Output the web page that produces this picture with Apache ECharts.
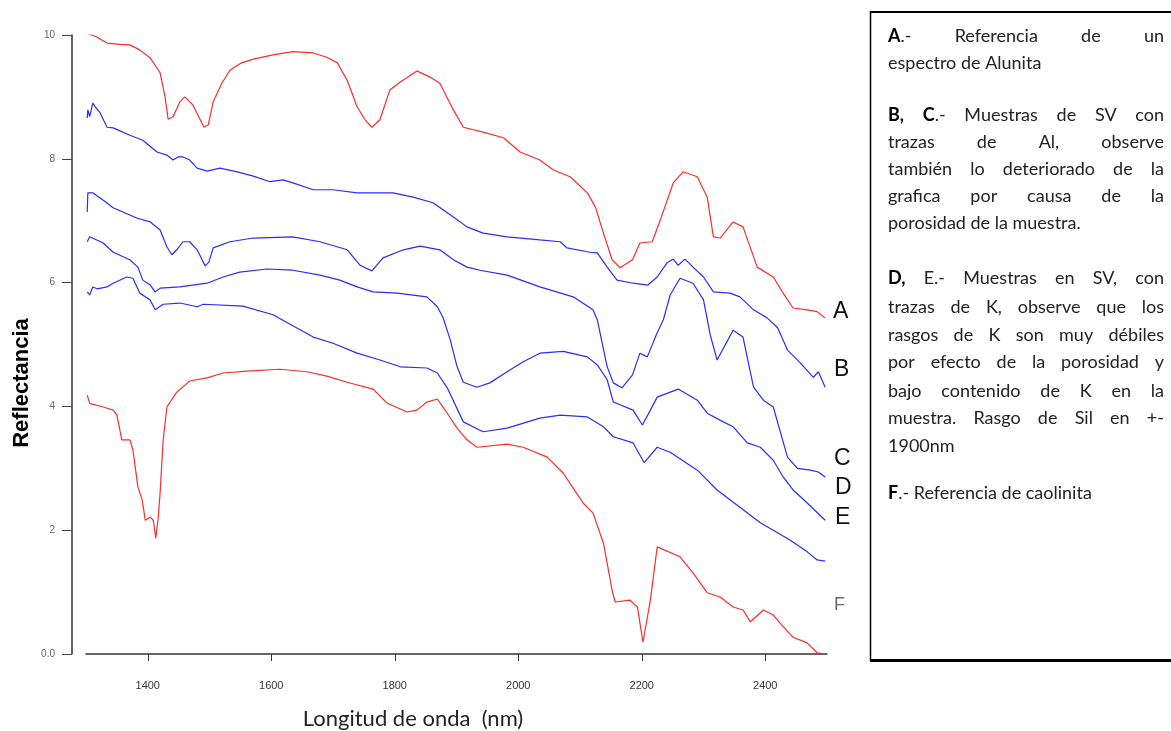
<!DOCTYPE html>
<html>
<head>
<meta charset="utf-8">
<script src="https://cdn.jsdelivr.net/npm/echarts@6/dist/echarts.min.js"></script>
<style>
  html, body { margin: 0; padding: 0; background: #ffffff; }
  #chart { width: 1171px; height: 731px; }
</style>
</head>
<body>
<div id="chart"></div>
<script>
// Wavelength (nm) and reflectance readings for each spectrum
const wavelengthTicks = [1400, 1600, 1800, 2000, 2200, 2400];
const reflectanceTicks = [0, 2, 4, 6, 8, 10];
const curveNames = ['A', 'B', 'C', 'D', 'E', 'F'];

const spectrumA = [[1302,10.02],[1315,9.98],[1334,9.87],[1355,9.85],[1371,9.84],[1387,9.76],[1404,9.63],[1420,9.39],[1428,9.00],[1433,8.64],[1441,8.68],[1452,8.92],[1460,9.00],[1473,8.87],[1485,8.63],[1491,8.51],[1498,8.55],[1506,8.92],[1520,9.22],[1533,9.43],[1552,9.55],[1571,9.61],[1603,9.68],[1635,9.73],[1668,9.71],[1690,9.64],[1707,9.55],[1723,9.27],[1739,8.84],[1752,8.63],[1763,8.51],[1776,8.63],[1792,9.11],[1809,9.24],[1836,9.42],[1857,9.32],[1873,9.22],[1895,8.79],[1911,8.51],[1943,8.43],[1976,8.34],[2003,8.11],[2035,7.98],[2057,7.82],[2084,7.71],[2112,7.45],[2125,7.22],[2138,6.80],[2152,6.37],[2165,6.24],[2185,6.37],[2197,6.64],[2217,6.66],[2230,7.01],[2251,7.61],[2267,7.79],[2290,7.71],[2306,7.38],[2316,6.74],[2327,6.72],[2348,6.98],[2364,6.90],[2387,6.25],[2413,6.09],[2429,5.83],[2445,5.59],[2468,5.56],[2484,5.53],[2497,5.43]];

const spectrumB = [[1302,8.66],[1303,8.79],[1306,8.68],[1311,8.90],[1315,8.84],[1323,8.74],[1334,8.51],[1344,8.50],[1371,8.38],[1392,8.30],[1415,8.11],[1431,8.06],[1441,7.98],[1449,8.03],[1457,8.03],[1468,7.98],[1480,7.85],[1496,7.80],[1517,7.85],[1545,7.79],[1571,7.72],[1598,7.63],[1619,7.66],[1635,7.61],[1668,7.50],[1700,7.50],[1739,7.45],[1765,7.45],[1797,7.45],[1830,7.38],[1862,7.29],[1895,7.06],[1917,6.90],[1943,6.80],[1982,6.74],[2035,6.69],[2068,6.66],[2079,6.56],[2116,6.49],[2128,6.48],[2144,6.25],[2160,6.04],[2186,5.99],[2210,5.96],[2225,6.09],[2241,6.32],[2251,6.38],[2259,6.28],[2270,6.38],[2283,6.25],[2300,6.09],[2316,5.85],[2343,5.83],[2359,5.77],[2381,5.56],[2403,5.43],[2420,5.27],[2436,4.91],[2457,4.70],[2478,4.47],[2486,4.56],[2497,4.31]];

const spectrumC = [[1302,7.14],[1303,7.45],[1311,7.45],[1328,7.33],[1344,7.21],[1383,7.04],[1404,6.98],[1420,6.85],[1431,6.58],[1439,6.45],[1447,6.53],[1457,6.66],[1468,6.66],[1480,6.53],[1493,6.27],[1499,6.33],[1506,6.56],[1533,6.66],[1571,6.72],[1635,6.74],[1679,6.66],[1723,6.53],[1744,6.28],[1763,6.19],[1781,6.40],[1814,6.53],[1841,6.59],[1873,6.53],[1895,6.37],[1917,6.25],[1938,6.20],[1982,6.12],[2035,5.93],[2089,5.77],[2121,5.56],[2128,5.40],[2144,4.64],[2154,4.38],[2168,4.30],[2185,4.51],[2197,4.86],[2209,4.80],[2225,5.19],[2235,5.40],[2246,5.80],[2262,6.07],[2283,5.99],[2300,5.72],[2311,5.15],[2322,4.75],[2335,4.99],[2348,5.23],[2364,5.12],[2381,4.31],[2397,4.10],[2413,3.99],[2436,3.18],[2452,3.00],[2473,2.97],[2486,2.94],[2497,2.86]];

const spectrumD = [[1302,6.66],[1306,6.74],[1328,6.64],[1344,6.49],[1371,6.37],[1384,6.25],[1392,6.04],[1404,5.96],[1412,5.85],[1420,5.91],[1452,5.93],[1496,5.99],[1522,6.09],[1549,6.17],[1593,6.22],[1635,6.20],[1679,6.12],[1711,6.04],[1739,5.93],[1765,5.85],[1804,5.83],[1852,5.77],[1869,5.61],[1878,5.44],[1890,5.07],[1901,4.64],[1911,4.39],[1933,4.31],[1954,4.38],[1982,4.56],[2008,4.72],[2035,4.86],[2073,4.89],[2112,4.80],[2128,4.67],[2144,4.43],[2154,4.07],[2186,3.94],[2201,3.70],[2214,3.94],[2225,4.15],[2259,4.28],[2290,4.10],[2306,3.89],[2332,3.75],[2348,3.67],[2371,3.41],[2392,3.34],[2413,3.13],[2429,2.86],[2445,2.65],[2468,2.44],[2497,2.16]];

const spectrumE = [[1302,5.85],[1306,5.80],[1311,5.93],[1318,5.90],[1334,5.93],[1344,5.99],[1366,6.09],[1376,6.07],[1387,5.83],[1404,5.72],[1412,5.56],[1415,5.56],[1425,5.65],[1452,5.67],[1480,5.61],[1490,5.65],[1554,5.62],[1603,5.48],[1626,5.35],[1668,5.12],[1700,5.02],[1739,4.86],[1776,4.75],[1809,4.64],[1852,4.62],[1869,4.54],[1885,4.30],[1911,3.75],[1943,3.59],[1982,3.65],[2035,3.81],[2068,3.86],[2112,3.83],[2138,3.67],[2154,3.51],[2186,3.41],[2204,3.09],[2225,3.34],[2246,3.26],[2290,2.97],[2322,2.65],[2359,2.37],[2392,2.12],[2413,2.00],[2440,1.84],[2468,1.65],[2484,1.52],[2497,1.50]];

const spectrumF = [[1302,4.18],[1306,4.05],[1328,3.99],[1344,3.94],[1350,3.86],[1358,3.46],[1371,3.46],[1376,3.30],[1384,2.70],[1391,2.49],[1396,2.16],[1404,2.21],[1409,2.16],[1413,1.87],[1417,2.21],[1420,2.60],[1425,3.46],[1431,3.99],[1447,4.23],[1468,4.41],[1496,4.46],[1522,4.54],[1561,4.57],[1614,4.60],[1658,4.56],[1690,4.49],[1723,4.39],[1765,4.28],[1788,4.05],[1820,3.91],[1836,3.94],[1852,4.07],[1869,4.12],[1885,3.89],[1901,3.65],[1917,3.46],[1933,3.34],[1982,3.39],[2008,3.34],[2047,3.18],[2073,2.92],[2089,2.68],[2105,2.44],[2121,2.28],[2138,1.79],[2152,1.03],[2157,0.84],[2181,0.87],[2193,0.76],[2202,0.19],[2214,0.87],[2225,1.73],[2262,1.57],[2283,1.31],[2306,0.99],[2327,0.92],[2348,0.76],[2364,0.71],[2376,0.52],[2397,0.71],[2413,0.63],[2424,0.50],[2445,0.27],[2468,0.18],[2484,0.02],[2497,0.00]];

// Explanatory notes; *...* marks bold runs, true = justified line
const noteLines = [
  ['*A*.- Referencia de un', true],
  ['espectro de Alunita', false],
  ['*B, C*.- Muestras de SV con', true],
  ['trazas de Al, observe', true],
  ['también lo deteriorado de la', true],
  ['grafica por causa de la', true],
  ['porosidad de la muestra.', false],
  ['*D,* E.- Muestras en SV, con', true],
  ['trazas de K, observe que los', true],
  ['rasgos de K son muy débiles', true],
  ['por efecto de la porosidad y', true],
  ['bajo contenido de K en la', true],
  ['muestra. Rasgo de Sil en +-', true],
  ['1900nm', false],
  ['*F*.- Referencia de caolinita', false]
];

// ---- layout ----
const RED = '#ff2b2b', BLUE = '#2b2bff';
const curveColors = [RED, BLUE, BLUE, BLUE, BLUE, RED];
const curveData = [spectrumA, spectrumB, spectrumC, spectrumD, spectrumE, spectrumF];
const curveLabelPos = [[833, 312], [834, 370], [834, 459], [835, 488], [835, 518], [834, 605]];
const noteY = [36, 63, 115, 142, 169, 196, 223, 278, 307, 335, 362, 391, 418, 446, 493];
const NOTE_LEFT = 888, NOTE_RIGHT = 1164, NOTE_SIZE = 18, NOTE_FONT = 'Lato';
const AXIS_FONT = '"Liberation Sans", Arial, sans-serif';

const measureCtx = document.createElement('canvas').getContext('2d');
function textWidth(t, font) { measureCtx.font = font; return measureCtx.measureText(t).width; }

function parseWords(line) {
  let bold = false;
  return line.split(/\s+/).map(w => {
    const segs = []; let cur = '';
    for (const ch of w) {
      if (ch === '*') { if (cur) segs.push({ t: cur, bold }); cur = ''; bold = !bold; }
      else cur += ch;
    }
    if (cur) segs.push({ t: cur, bold });
    return segs;
  });
}

// place the note words, spreading justified lines across the box width
const noteGraphics = [];
noteLines.forEach(([line, justify], i) => {
  const words = parseWords(line);
  const fontOf = s => (s.bold ? 'bold ' : '') + NOTE_SIZE + 'px ' + NOTE_FONT;
  const widths = words.map(ws => ws.reduce((a, s) => a + textWidth(s.t, fontOf(s)), 0));
  const total = widths.reduce((a, b) => a + b, 0);
  const gap = justify && words.length > 1
    ? (NOTE_RIGHT - NOTE_LEFT - total) / (words.length - 1)
    : textWidth(' ', NOTE_SIZE + 'px ' + NOTE_FONT);
  let x = NOTE_LEFT;
  words.forEach((ws, k) => {
    let sx = x;
    ws.forEach(s => {
      noteGraphics.push({
        type: 'text', silent: true,
        style: { text: s.t, x: sx, y: noteY[i], font: fontOf(s), fill: s.bold ? '#000' : '#222',
                 verticalAlign: 'middle', textVerticalAlign: 'middle' }
      });
      sx += textWidth(s.t, fontOf(s));
    });
    x += widths[k] + gap;
  });
});

const labelGraphics = curveNames.map((n, i) => ({
  type: 'text', silent: true,
  style: {
    text: n, x: curveLabelPos[i][0], y: curveLabelPos[i][1],
    font: (n === 'F' ? '18px ' : '23px ') + AXIS_FONT,
    fill: n === 'F' ? '#6a6a6a' : '#111', verticalAlign: 'middle', textVerticalAlign: 'middle'
  }
}));

const chart = echarts.init(document.getElementById('chart'), null, { renderer: 'canvas' });
chart.setOption({
  backgroundColor: '#ffffff',
  animation: false,
  grid: { left: 86, right: 344, top: 35, bottom: 77 },
  xAxis: {
    type: 'value', min: 1300, max: 2500, offset: 11,
    axisLine: { show: true, lineStyle: { color: '#333', width: 1.5 } },
    axisTick: { show: true, length: 7, lineStyle: { color: '#333', width: 1 }, customValues: wavelengthTicks },
    axisLabel: { customValues: wavelengthTicks, margin: 15, fontSize: 11, color: '#333',
                 fontFamily: AXIS_FONT, formatter: v => String(v) },
    splitLine: { show: false }
  },
  yAxis: {
    type: 'value', min: 0, max: 10, interval: 2, offset: 14,
    axisLine: { show: true, lineStyle: { color: '#333', width: 1.5 } },
    axisTick: { show: true, length: 10, lineStyle: { color: '#444', width: 1 } },
    axisLabel: {
      customValues: reflectanceTicks, margin: 17, fontSize: 10, color: '#666',
      fontFamily: AXIS_FONT,
      formatter: v => (v === 0 ? '0.0' : String(v))
    },
    splitLine: { show: false }
  },
  series: curveNames.map((n, i) => ({
    name: n, type: 'line', data: curveData[i], showSymbol: false, silent: true,
    lineStyle: { color: curveColors[i], width: 1.2 }, itemStyle: { color: curveColors[i] }
  })),
  graphic: [
    { type: 'text', silent: true, x: 22, y: 383, rotation: Math.PI / 2,
      style: { text: 'Reflectancia', font: 'bold 22px ' + AXIS_FONT, fill: '#000',
               align: 'center', verticalAlign: 'middle', textAlign: 'center', textVerticalAlign: 'middle' } },
    { type: 'text', silent: true,
      style: { text: 'Longitud de onda  (nm)', x: 413, y: 719, font: '22px Lato', fill: '#222',
               align: 'center', verticalAlign: 'middle', textAlign: 'center', textVerticalAlign: 'middle' } },
    // note box frame
    { type: 'line', silent: true, shape: { x1: 870.5, y1: 11, x2: 870.5, y2: 661 }, style: { stroke: '#000', lineWidth: 1.5 } },
    { type: 'line', silent: true, shape: { x1: 870, y1: 12, x2: 1171, y2: 12 }, style: { stroke: '#000', lineWidth: 2 } },
    { type: 'line', silent: true, shape: { x1: 870, y1: 660.5, x2: 1171, y2: 660.5 }, style: { stroke: '#000', lineWidth: 3 } }
  ].concat(labelGraphics, noteGraphics)
});
</script>
</body>
</html>
